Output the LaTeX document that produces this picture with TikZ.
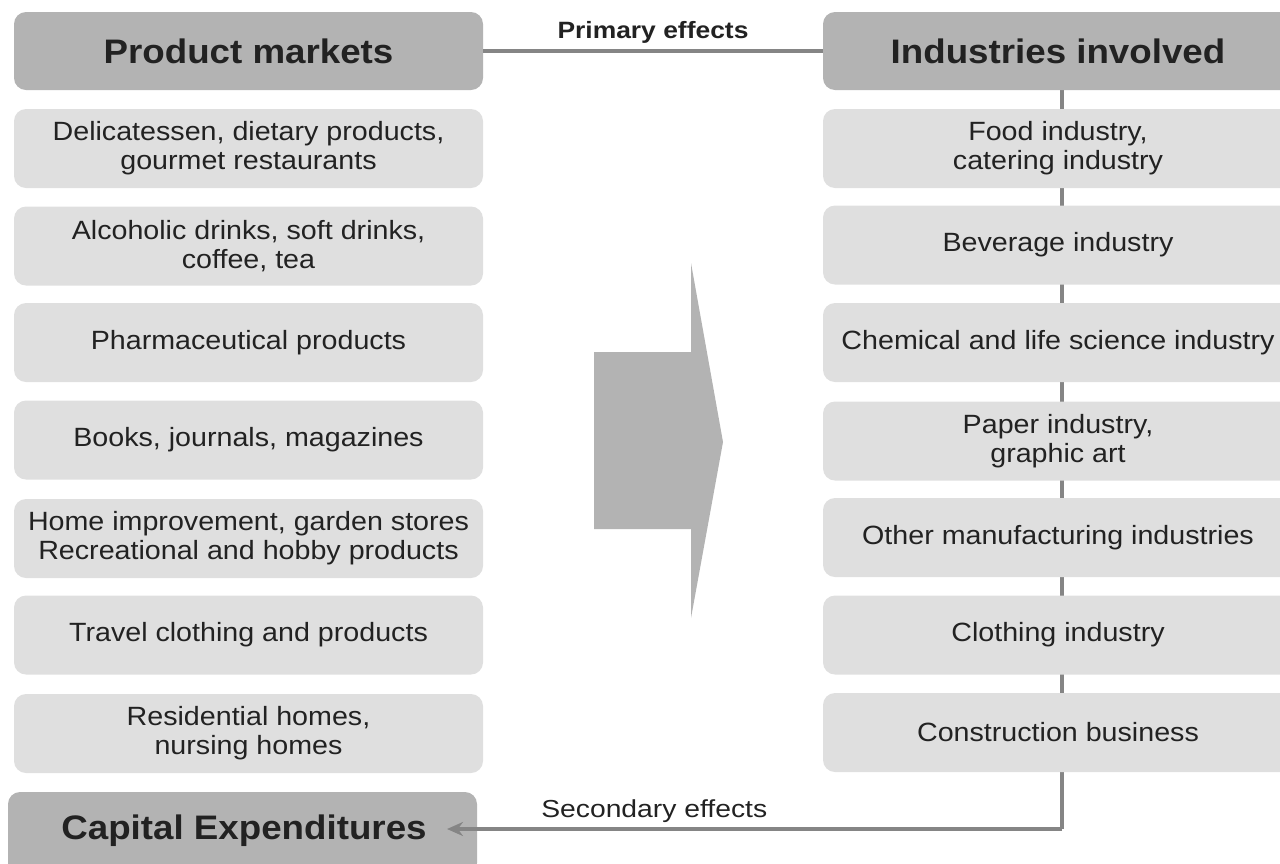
\documentclass[tikz,border=0pt]{standalone}
\usepackage{fontspec}
\usetikzlibrary{arrows.meta}
\newfontfamily\bodyf{Liberation Sans}[FakeStretch=1.085]
\newfontfamily\headf{Liberation Sans}[FakeStretch=1.08]
\newfontfamily\primf{Liberation Sans}[FakeStretch=1.12]
\newfontfamily\secf{Liberation Sans}[FakeStretch=1.15]
\definecolor{headgray}{HTML}{B3B3B3}
\definecolor{boxgray}{HTML}{DFDFDF}
\definecolor{linegray}{HTML}{858585}
\definecolor{txt}{HTML}{222222}
\pgfdeclarelayer{bg}
\pgfsetlayers{bg,main}
\tikzset{
  headbox/.style={fill=headgray, rounded corners=6pt, minimum height=39pt, inner sep=0pt,
    text=txt, font=\headf\fontsize{17}{19}\selectfont\bfseries},
  lbox/.style={fill=boxgray, rounded corners=6pt, minimum width=234.5pt, minimum height=39.5pt,
    inner sep=0pt, align=center, text=txt, font=\bodyf\fontsize{13.2}{14.5}\selectfont},
  rbox/.style={lbox, minimum width=235pt},
  conn/.style={draw=linegray, line width=2pt},
  bigarrow/.style={fill=headgray},
  primlabel/.style={text=txt, font=\primf\fontsize{11.8}{13}\selectfont\bfseries, inner sep=0pt},
  seclabel/.style={text=txt, font=\secf\fontsize{12.3}{13}\selectfont, inner sep=0pt}
}
\begin{document}
\begin{tikzpicture}[x=0.5pt, y=-0.5pt]
\clip (0,0) rectangle (1280,863);
% headers
\node[headbox, minimum width=234.5pt] (pm) at (248.5,51) {Product markets};
\node[headbox, minimum width=235pt] (ind) at (1058,51) {Industries involved};
\node[headbox, minimum width=234.5pt, minimum height=41.5pt] (cap) at (242.5,833.5) {};
\node[text=txt, font=\headf\fontsize{17}{19}\selectfont\bfseries, inner sep=0pt] (captxt) at (244,831) {Capital Expenditures};
% left column
\node[lbox] (l1) at (248.5,148.5) {Delicatessen, dietary products,\\gourmet restaurants};
\node[lbox] (l2) at (248.5,246) {Alcoholic drinks, soft drinks,\\coffee, tea};
\node[lbox] (l3) at (248.5,342.5) {Pharmaceutical products};
\node[lbox] (l4) at (248.5,440) {Books, journals, magazines};
\node[lbox] (l5) at (248.5,538.5) {Home improvement, garden stores\\Recreational and hobby products};
\node[lbox] (l6) at (248.5,635) {Travel clothing and products};
\node[lbox] (l7) at (248.5,733.5) {Residential homes,\\nursing homes};
% right column
\node[rbox] (r1) at (1058,148.5) {Food industry,\\catering industry};
\node[rbox] (r2) at (1058,245) {Beverage industry};
\node[rbox] (r3) at (1058,342.5) {Chemical and life science industry};
\node[rbox] (r4) at (1058,441) {Paper industry,\\graphic art};
\node[rbox] (r5) at (1058,537.5) {Other manufacturing industries};
\node[rbox] (r6) at (1058,635) {Clothing industry};
\node[rbox] (r7) at (1058,732.5) {Construction business};
% big arrow
\fill[bigarrow] (594,352) -- (691,352) -- (691,263) -- (723,442) -- (691,618) -- (691,529) -- (594,529) -- cycle;
% connectors
\coordinate (v) at (1062,829);
\coordinate (tip) at (447,829);
\draw[conn] (pm.east) -- node[primlabel, above=3pt, pos=0.5] (plab) {Primary effects} (ind.west);
\begin{pgfonlayer}{bg}
\draw[conn] (ind.south -| v) -- (v);
\end{pgfonlayer}
\draw[conn, -{Stealth[length=8pt,width=7pt]}] (v) -- node[seclabel, above=2pt, pos=0.663] (slab) {Secondary effects} (tip);
\end{tikzpicture}
\end{document}
